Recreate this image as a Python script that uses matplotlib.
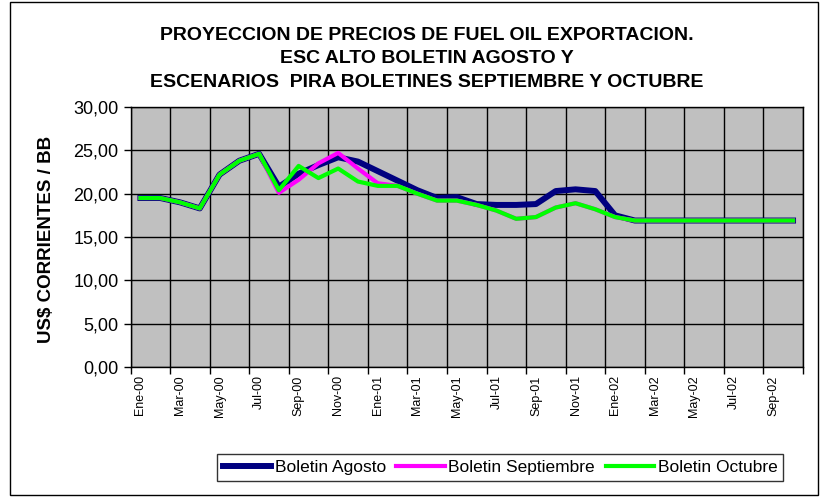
import numpy as np
import matplotlib
matplotlib.use("Agg")
import matplotlib.pyplot as plt
from matplotlib.patches import Rectangle

plt.rcParams['font.family'] = ['Liberation Sans', 'DejaVu Sans']

# meses Ene-00 .. Oct-02
months = ['Ene', 'Feb', 'Mar', 'Abr', 'May', 'Jun', 'Jul', 'Ago', 'Sep', 'Oct', 'Nov', 'Dic']
labels = [f'{m}-{y:02d}' for y in range(0, 3) for m in months][:34]

agosto = [19.5, 19.5, 19.0, 18.3, 22.2, 23.8, 24.6, 20.8, 22.3, 23.3, 24.2, 23.7,
          22.6, 21.5, 20.4, 19.5, 19.6, 18.8, 18.7, 18.7, 18.8, 20.3, 20.5, 20.3,
          17.5, 16.9, 16.9, 16.9, 16.9, 16.9, 16.9, 16.9, 16.9, 16.9]
septiembre = [19.5, 19.5, 19.0, 18.3, 22.2, 23.8, 24.6, 20.1, 21.6, 23.5, 24.7, 22.9,
              21.2, 20.9, 20.0, 19.2, 19.2, 18.7, 18.05, 17.1, 17.3, 18.4, 18.9, 18.2,
              17.3, 16.9, 16.9, 16.9, 16.9, 16.9, 16.9, 16.9, 16.9, 16.9]
octubre = [19.5, 19.5, 19.0, 18.3, 22.2, 23.8, 24.6, 20.4, 23.2, 21.8, 22.9, 21.4,
           20.9, 20.9, 20.0, 19.2, 19.2, 18.7, 18.05, 17.1, 17.3, 18.4, 18.9, 18.2,
           17.3, 16.9, 16.9, 16.9, 16.9, 16.9, 16.9, 16.9, 16.9, 16.9]

x = np.arange(len(labels))

fig = plt.figure(figsize=(8.21, 4.97), dpi=100)
ax = fig.add_axes([0.159, 0.2616, 0.819, 0.5231])
ax.set_facecolor('#C0C0C0')

ax.plot(x, agosto, color='#000080', lw=4.3, label='Boletin Agosto', zorder=3)
ax.plot(x, septiembre, color='#FF00FF', lw=3.0, label='Boletin Septiembre', zorder=4)
ax.plot(x, octubre, color='#00FF00', lw=3.0, label='Boletin Octubre', zorder=5)

ax.set_xlim(-0.5, len(labels) - 0.5)
ax.set_ylim(0, 30)
ax.set_yticks(np.arange(0, 31, 5))
ax.set_yticklabels([f'{v:.2f}'.replace('.', ',') for v in np.arange(0, 31, 5)], fontsize=13)

ax.set_xticks(np.arange(-0.5, len(labels), 2))
ax.set_xticklabels([])
ax.set_xticks(x[::2], minor=True)
ax.set_xticklabels(labels[::2], minor=True, rotation=90, fontsize=9)
ax.tick_params(axis='x', which='minor', length=0, pad=6)
ax.tick_params(axis='both', which='major', length=5, width=1, direction='out')

ax.grid(True, which='major', color='black', lw=1)
ax.set_axisbelow(True)
for s in ax.spines.values():
    s.set_color('black')
    s.set_linewidth(1)

ax.set_ylabel('US$ CORRIENTES / BB', fontsize=13.5, fontweight='bold')
ax.yaxis.set_label_coords(-0.112, 0.49)

fig.text(0.52, 0.946,
         'PROYECCION DE PRECIOS DE FUEL OIL EXPORTACION.\n'
         'ESC ALTO BOLETIN AGOSTO Y\n'
         'ESCENARIOS  PIRA BOLETINES SEPTIEMBRE Y OCTUBRE',
         ha='center', va='top', fontsize=14, fontweight='bold', linespacing=1.5)

leg = fig.legend(loc='center', bbox_to_anchor=(0.609, 0.059), ncol=3, fontsize=12.5,
                 frameon=True, fancybox=False, edgecolor='black', handlelength=2.8,
                 handletextpad=0.2, columnspacing=0.6, borderpad=0.35)
leg.get_frame().set_linewidth(1)

fig.patches.append(Rectangle((0.012, 0.004), 0.984, 0.992, transform=fig.transFigure,
                             fill=False, edgecolor='black', lw=1))

fig.savefig('out.png', dpi=100)
